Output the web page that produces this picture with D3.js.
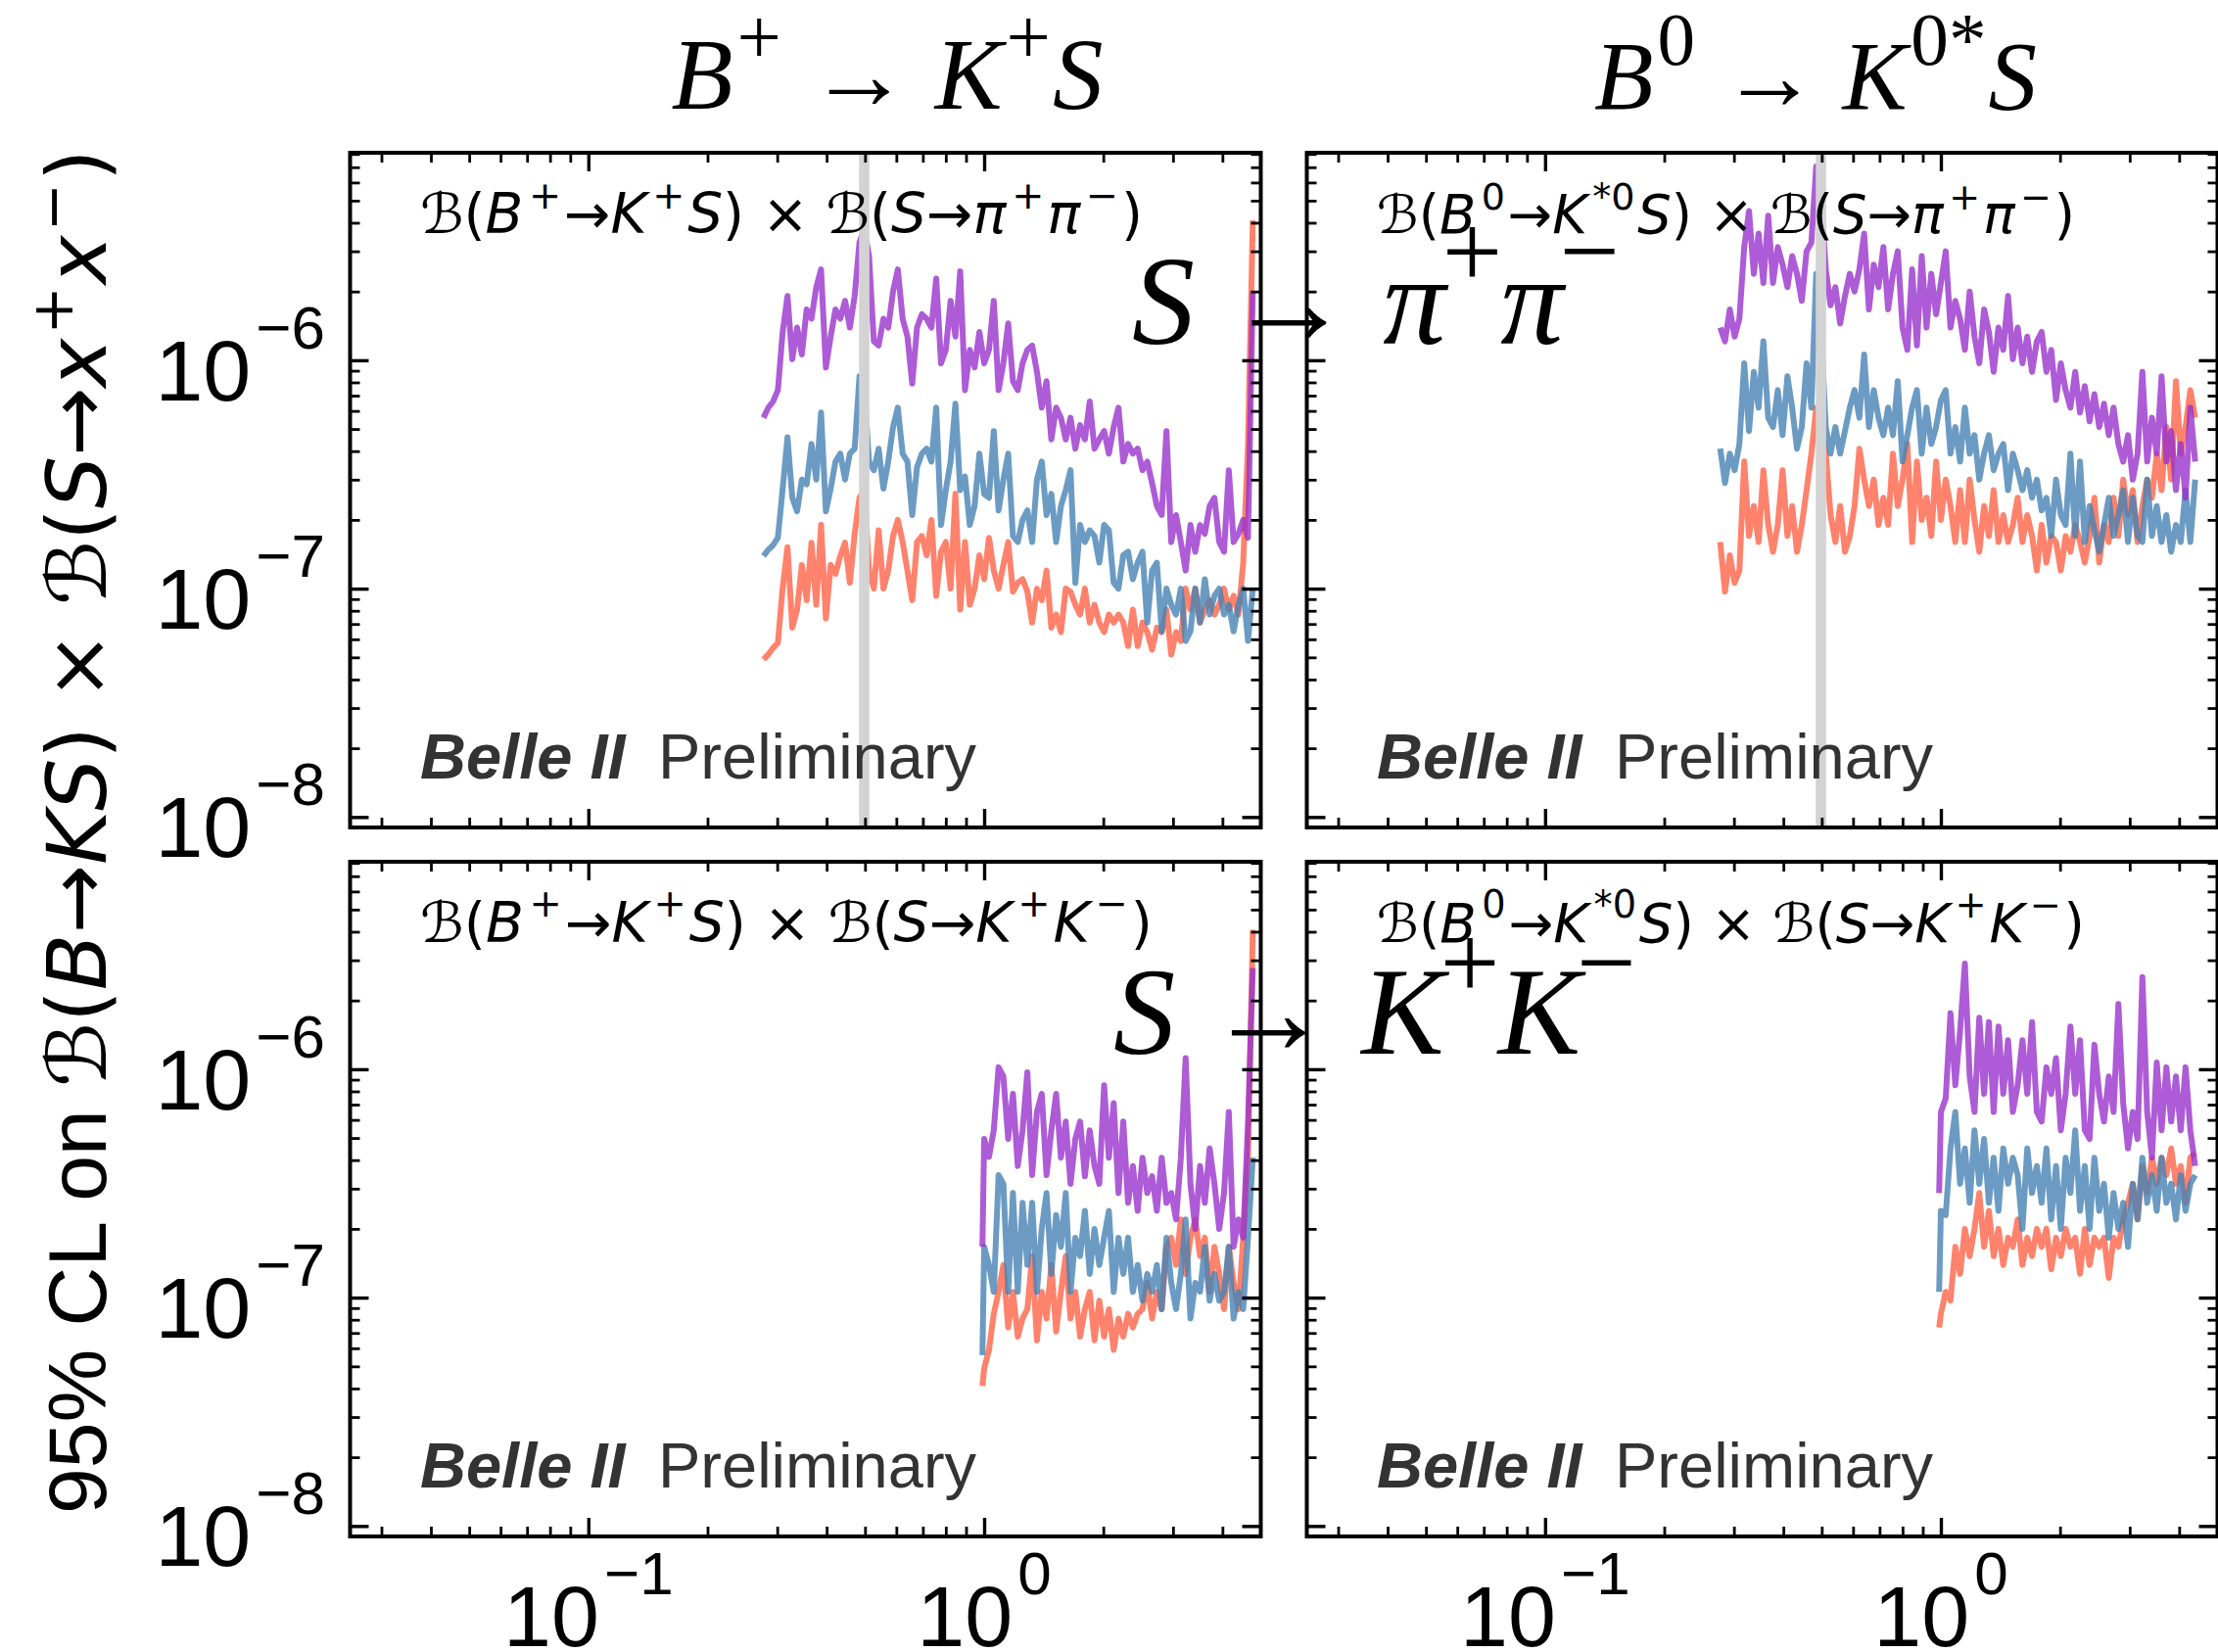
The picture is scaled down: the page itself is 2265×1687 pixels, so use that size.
<!DOCTYPE html>
<html>
<head>
<meta charset="utf-8">
<script src="https://cdn.jsdelivr.net/npm/d3@7"></script>
<style>
  html, body { margin: 0; padding: 0; background: #fff; }
  svg { display: block; }
</style>
</head>
<body>
<svg id="fig"></svg>
<script>
// ---------------------------------------------------------------
// 95% CL upper limits on B(B -> K S) x B(S -> x+ x-) versus m_S [GeV]
// Limits are stored in units of 1e-8.
// ---------------------------------------------------------------
const UNIT = 1e-8;

// mass scan points (GeV)
const massPiPi = [0.277,0.2848,0.2929,0.3012,0.3097,0.3185,0.3275,0.3368,0.3463,0.3561,
  0.3662,0.3766,0.3872,0.3982,0.4095,0.421,0.433,0.4452,0.4578,0.4708,
  0.4841,0.4978,0.5119,0.5264,0.5413,0.5566,0.5724,0.5886,0.6052,0.6224,
  0.64,0.6581,0.6767,0.6959,0.7156,0.7358,0.7567,0.7781,0.8001,0.8228,
  0.846,0.87,0.8946,0.9199,0.9459,0.9727,1.0002,1.0285,1.0576,1.0876,
  1.1183,1.15,1.1825,1.216,1.2504,1.2858,1.3222,1.3596,1.3981,1.4376,
  1.4783,1.5202,1.5632,1.6074,1.6529,1.6997,1.7478,1.7973,1.8481,1.9004,
  1.9542,2.0095,2.0664,2.1249,2.185,2.2468,2.3104,2.3758,2.443,2.5122,
  2.5833,2.6564,2.7316,2.8089,2.8884,2.9701,3.0542,3.1406,3.2295,3.3209,
  3.4149,3.5115,3.6109,3.7131,3.8182,3.9263,4.0374,4.1516,4.2691,4.39,
  4.5142,4.642,4.7733];
const massPiPiB0 = massPiPi.slice(0, 100);   // kinematic end for K*0 S
const massKK = [0.99,1.0002,1.0285,1.0576,1.0876,
  1.1183,1.15,1.1825,1.216,1.2504,1.2858,1.3222,1.3596,1.3981,1.4376,
  1.4783,1.5202,1.5632,1.6074,1.6529,1.6997,1.7478,1.7973,1.8481,1.9004,
  1.9542,2.0095,2.0664,2.1249,2.185,2.2468,2.3104,2.3758,2.443,2.5122,
  2.5833,2.6564,2.7316,2.8089,2.8884,2.9701,3.0542,3.1406,3.2295,3.3209,
  3.4149,3.5115,3.6109,3.7131,3.8182,3.9263,4.0374,4.1516,4.2691,4.39,
  4.5142,4.642,4.7733];
const massKKB0 = massKK.slice(0, 55);

// B+ -> K+ S, S -> pi+ pi-
const piPiBpShort = [4.9,5.15,5.5,5.8,10.1,15.2,6.75,8.1,12.7,8.9,
  15.9,8.5,19,7.4,12.7,11.6,13.9,15.9,10.6,17.4,
  25,27,12,10,18,10,12,17,20,16,
  12,8.9,16,17,14,20,9.3,14.5,16,10,
  26,8.1,16,8.5,10,14,11,16.7,12,10,
  12.7,16,9.7,10.6,11,9.7,7.1,10,8.9,12,
  6.75,7.7,6.45,10,9.7,8.5,7.7,10,7.1,8.5,
  7.1,6.45,7.7,7.1,7.7,7.1,5.6,8.1,5.6,7.1,
  6.45,5.4,6.75,6.45,8.1,5.15,6.45,5.9,10,8.1,
  10,7.1,8.1,8.9,7.7,8.5,10,8.1,9.3,7.7,
  13,43,410];
const piPiBpMid = [13.9,14.8,15.5,16.7,27.4,46,25,21.8,30,28.6,
  43,30,59,21.8,27.4,36,39,30,39,41,
  85,74,36,33,41,27.4,36,51,62,39,
  36,21,34,39,41,36,62,19,27,36,
  64.5,27,31,19,23,39,26,25,49,22,
  30,39,17,16,20,22,16,30,36,21,
  26,16,23,27,33,10.6,19,16,18,17,
  13,19,18,10.6,10,14,14.5,11,13,14.5,
  7.1,12,13,6.5,10,8.5,7.7,10,5.9,6.5,
  10,7.1,11,7.7,9.3,10,7.7,8.5,6.5,8.5,
  10,5.9,10];
const piPiBpLong = [56,62,66,74,133,191,101,139,106,167,
  152,209,250,93,127,167,152,182,139,191,
  328,375,286,121,116,152,139,200,250,152,
  127,79,139,159,152,139,228,97,111,182,
  127,245,74,111,93,133,97,111,182,74,
  97,145,81,74,97,111,116,89,62,81,
  45,62,56,45,56,41,52,45,66,41,
  45,49,39,51,62,36,43,39,41,33,
  36,29,23,21,49,16,21,16,12,19,
  14.5,19,17.4,23,25,16,14.5,33,16,17.4,
  20,16.7,200];

// B0 -> K*0 S, S -> pi+ pi-
const piPiB0Short = [16,9.7,14,10.6,12,36,17,23,16,33,
  19,14.5,19,33,17,23,14.5,19,27,39,
  62,51,39,21,16,23,14.5,17,23,41,
  30,23,30,19,25,19,39,23,30,43,
  16,36,20,25,17,36,20,30,23,16,
  27,16,30,20,14.5,23,17,27,16,21,
  16,19,25,16,21,17,12,19,13,17,
  16,12,17,14.5,19,16,13,17,25,13,
  19,16,25,17,30,21,27,16,23,30,
  25,39,27,51,30,81,39,51,74,56];
const piPiB0Mid = [41,29,39,33,43,97,49,89,62,121,
  56,51,74,47,85,62,41,51,97,62,
  239,139,51,39,51,39,49,62,74,56,
  106,51,74,56,47,62,47,81,36,47,
  62,74,39,62,43,51,67,74,39,51,
  36,62,39,47,30,39,47,33,39,43,
  27,39,33,27,33,25,30,22,25,17,
  30,21,19,39,17,36,16,23,18,14.5,
  19,25,17,21,27,16,25,17,16,30,
  17,23,16,21,14.5,19,16,27,16,30];
const piPiB0Long = [139,121,167,127,152,313,450,239,359,218,
  430,218,313,262,209,286,239,182,300,328,
  705,540,250,174,209,145,191,239,200,250,
  359,167,262,209,313,167,239,300,139,111,
  250,116,286,139,239,159,218,300,139,182,
  152,111,200,127,97,167,133,89,139,111,
  191,101,139,97,127,89,121,133,89,111,
  67,97,74,62,89,59,77,54,71,51,
  64.5,47,62,43,36,47,30,39,89,36,
  56,39,85,36,49,27,43,25,62,36];

// B+ -> K+ S, S -> K+ K-
const kkBpShort = [4.1,
  4.9,5.9,8.5,10.6,13.9,7.4,10.6,6.75,8.1,8.9,
  15.2,6.5,10.6,8.1,13.9,7.1,10.6,15.2,8.1,10.6,
  6.75,8.9,10.6,6.5,9.7,6.75,8.9,5.9,8.1,6.75,
  8.5,7.4,8.5,8.9,11.6,8.1,10.6,8.9,16.7,18.3,
  13.9,22,12.7,18.3,22,15.2,18.3,10.6,16.7,12.7,
  8.9,16.7,11.6,8.9,18.3,41,408];
const kkBpMid = [5.6,
  16.7,13.9,10.6,34.4,31.5,10.6,28.7,10.6,26,13.9,
  26,10.6,20,28.7,12.7,23,16.7,28.7,10.6,18.3,
  15.2,24,12.7,20,13.9,18.3,24,10.6,18.3,12.7,
  18.3,10.6,13.9,9.7,12.7,10.6,13.9,8.9,18.3,11.6,
  8.9,12.7,22,8.1,11.6,10.6,16.7,9.7,12.7,9.7,
  10.6,16.7,8.1,10.6,8.9,18.3,41];
const kkBpLong = [16.7,
  49.5,41.3,54,102,93,49.5,78,37.7,54,97,
  34.4,65,78,34.4,54,78,41,59,31.5,49.5,
  59,34,54,37.7,31.5,85,41,71,28.7,59,
  26,37.7,24,41,28.7,34,24,41,26,28.7,
  22,41,112,31.5,20,37.7,26,45,31.5,20,
  28.7,65,16.7,22,18.3,59,277];

// B0 -> K*0 S, S -> K+ K-
const kkB0Short = [7.4,
  8.5,10.6,9.7,16.7,12.7,20,15.2,20,28.7,16.7,
  24,15.2,20,13.9,18.3,16.7,22,13.9,18.3,15.2,
  20,16.7,20,13.3,18.3,15.2,20,16.7,18.3,12.7,
  20,13.9,18.3,16.7,18.3,12.2,18.3,16.7,22,26,
  31.5,22,37.7,28.7,41,31.5,41,34.4,45,31.5,
  37.7,26,41,43];
const kkB0Mid = [10.6,
  24,23,45,65,31.5,45,26,54,31.5,49.5,
  26,41,24,45,31.5,41,34.4,20,45,28.7,
  37.7,26,45,22,37.7,20,41,28.7,54,24,
  37.7,20,41,24,31.5,18.3,28.7,20,26,16.7,
  31.5,22,41,26,34.4,24,41,26,31.5,22,
  34.4,24,31.5,34.4];
const kkB0Long = [28.7,
  65,74.5,176,85,147,290,93,65,168,78,
  161,65,154,78,134,65,85,134,78,161,
  65,59,102,78,112,54,78,154,78,134,
  54,49.5,128,78,59,93,65,193,71,45,
  65,49.5,253,65,41,107,54,102,59,93,
  54,102,54,37.7];

// K_S^0 veto window in m(pi pi) (GeV)
const ksVeto = [0.483, 0.513];

// axis ticks
const xMajorTicks = [0.1, 1];
const xMinorTicks = [0.03,0.04,0.05,0.06,0.07,0.08,0.09,0.2,0.3,0.4,0.5,0.6,0.7,0.8,0.9,2,3,4];
const xTickExponents = ['\u22121', '0'];
const yMajorTicks = [1e-8, 1e-7, 1e-6];
const yMinorTicks = [9e-9,2e-8,3e-8,4e-8,5e-8,6e-8,7e-8,8e-8,9e-8,
  2e-7,3e-7,4e-7,5e-7,6e-7,7e-7,8e-7,9e-7,2e-6,3e-6,4e-6,5e-6,6e-6,7e-6,8e-6];
const yTickExponents = ['\u22128', '\u22127', '\u22126'];
const xDomain = [0.025, 5.0];
const yDomain = [9e-9, 8.1e-6];

// line colours: short / intermediate / long lifetime hypotheses
const seriesColors = ['tomato', 'steelblue', 'darkorchid'];

// text pieces: [string, kind] where kind i = italic, s = superscript
const notePiPiBp = [['\u212C'],['('],['B','i'],['+','s'],['\u2192'],['K','i'],['+','s'],['S','i'],[')'],[' \u00D7 '],
  ['\u212C'],['('],['S','i'],['\u2192'],['\u03C0','i'],['+','s'],['\u03C0','i'],['\u2212','s'],[')']];
const notePiPiB0 = [['\u212C'],['('],['B','i'],['0','s'],['\u2192'],['K','i'],['*0','s'],['S','i'],[')'],[' \u00D7 '],
  ['\u212C'],['('],['S','i'],['\u2192'],['\u03C0','i'],['+','s'],['\u03C0','i'],['\u2212','s'],[')']];
const noteKKBp = [['\u212C'],['('],['B','i'],['+','s'],['\u2192'],['K','i'],['+','s'],['S','i'],[')'],[' \u00D7 '],
  ['\u212C'],['('],['S','i'],['\u2192'],['K','i'],['+','s'],['K','i'],['\u2212','s'],[')']];
const noteKKB0 = [['\u212C'],['('],['B','i'],['0','s'],['\u2192'],['K','i'],['*0','s'],['S','i'],[')'],[' \u00D7 '],
  ['\u212C'],['('],['S','i'],['\u2192'],['K','i'],['+','s'],['K','i'],['\u2212','s'],[')']];
const titleBp = [['B','i'],['+','s'],[' \u2192 '],['K','i'],['+','s'],['S','i']];
const titleB0 = [['B','i'],['0','s'],[' \u2192 '],['K','i'],['0*','s'],['S','i']];
const rowPiPi = [['S','i'],[' \u2192 '],['\u03C0','i'],['+','s'],['\u03C0','i'],['\u2212','s']];
const rowKK = [['S','i'],[' \u2192 '],['K','i'],['+','s'],['K','i'],['\u2212','s']];
const yLabel = [['95% CL on ','sans'],['\u212C'],['('],['B','i'],['\u2192'],['KS','i'],[')'],[' \u00D7 '],
  ['\u212C'],['('],['S','i'],['\u2192'],['x','i'],['+','s'],['x','i'],['\u2212','s'],[')']];

// ---------------------------------------------------------------
const W = 2265, H = 1687;
const PW = 930, PH = 689;
const colX = [357.5, 1334.5];
const rowY = [156, 880];
const SANS = 'Liberation Sans, Arial, Helvetica, sans-serif';
const MATH = 'DejaVu Sans, sans-serif';
const SERIF = 'Liberation Serif, Times New Roman, serif';

const svg = d3.select('#fig').attr('width', W).attr('height', H);
svg.append('rect').attr('width', W).attr('height', H).attr('fill', '#fff');
const defs = svg.append('defs');

function mathText(parent, parts, size, o) {
  const t = parent.append('text')
    .attr('x', o.x || 0).attr('y', o.y || 0)
    .attr('font-family', o.family).attr('font-size', size)
    .attr('text-anchor', o.anchor || 'start')
    .attr('fill', o.fill || '#000')
    .style('white-space', 'pre');
  const rise = size * (o.rise || 0.42), sc = o.supScale || 0.7, gap = size * (o.supGap || 0);
  let up = false;
  parts.forEach(([s, k]) => {
    const ts = t.append('tspan').text(s);
    if (k === 's') {
      ts.attr('font-size', size * sc);
      if (!up) { ts.attr('dy', -rise).attr('dx', gap); up = true; }
    } else {
      if (up) { ts.attr('dy', rise).attr('dx', gap * 0.5); up = false; }
      if (k === 'i') ts.attr('font-style', 'italic');
      if (k === 'sans') ts.attr('font-family', SANS);
    }
  });
  return t;
}
function fitText(parent, parts, width, o) {
  const probe = mathText(parent, parts, 100, o);
  const w = probe.node().getBBox().width;
  probe.remove();
  return mathText(parent, parts, 100 * width / w, o);
}
function powerLabel(parent, x, y, exp, anchor) {
  const t = parent.append('text').attr('x', x).attr('y', y)
    .attr('text-anchor', anchor).attr('font-family', SANS).attr('font-size', 88);
  t.append('tspan').text('10');
  t.append('tspan').attr('dx', 5).attr('dy', -53).attr('font-size', 62).text(exp);
}

const panels = [
  { col: 0, row: 0, mass: massPiPi,   lims: [piPiBpShort, piPiBpMid, piPiBpLong], note: notePiPiBp, noteW: 738, veto: true },
  { col: 1, row: 0, mass: massPiPiB0, lims: [piPiB0Short, piPiB0Mid, piPiB0Long], note: notePiPiB0, noteW: 713, veto: true },
  { col: 0, row: 1, mass: massKK,     lims: [kkBpShort, kkBpMid, kkBpLong],       note: noteKKBp,   noteW: 748, veto: false },
  { col: 1, row: 1, mass: massKKB0,   lims: [kkB0Short, kkB0Mid, kkB0Long],       note: noteKKB0,   noteW: 723, veto: false }
];

panels.forEach((p, i) => {
  const x0 = colX[p.col], y0 = rowY[p.row];
  const x = d3.scaleLog().domain(xDomain).range([x0, x0 + PW]);
  const y = d3.scaleLog().domain(yDomain).range([y0 + PH, y0]);
  const g = svg.append('g');

  defs.append('clipPath').attr('id', 'clip' + i)
    .append('rect').attr('x', x0).attr('y', y0).attr('width', PW).attr('height', PH);
  const plot = g.append('g').attr('clip-path', `url(#clip${i})`);

  const line = d3.line()
    .x((d, j) => x(p.mass[j]))
    .y(d => y(d * UNIT));
  p.lims.forEach((vals, s) => {
    plot.append('path').datum(vals)
      .attr('d', line)
      .attr('fill', 'none')
      .attr('stroke', seriesColors[s])
      .attr('stroke-opacity', 0.8)
      .attr('stroke-width', 6)
      .attr('stroke-linejoin', 'round');
  });

  if (p.veto) {
    plot.append('rect')
      .attr('x', x(ksVeto[0])).attr('width', x(ksVeto[1]) - x(ksVeto[0]))
      .attr('y', y0).attr('height', PH)
      .attr('fill', '#d3d3d3');
  }

  // inward ticks on all four sides
  const tickSets = [
    [d3.axisBottom(x), `translate(0,${y0 + PH})`, xMajorTicks, xMinorTicks],
    [d3.axisTop(x), `translate(0,${y0})`, xMajorTicks, xMinorTicks],
    [d3.axisLeft(y), `translate(${x0},0)`, yMajorTicks, yMinorTicks],
    [d3.axisRight(y), `translate(${x0 + PW},0)`, yMajorTicks, yMinorTicks]
  ];
  tickSets.forEach(([ax, tr, major, minor]) => {
    [[major, 19, 3.4], [minor, 10, 2.8]].forEach(([vals, len, w]) => {
      const a = g.append('g').attr('transform', tr)
        .call(ax.tickValues(vals).tickSize(-len).tickFormat(''));
      a.select('.domain').remove();
      a.selectAll('line').attr('stroke', '#000').attr('stroke-width', w);
    });
  });

  g.append('rect').attr('x', x0).attr('y', y0).attr('width', PW).attr('height', PH)
    .attr('fill', 'none').attr('stroke', '#000').attr('stroke-width', 4);

  // in-panel annotations
  fitText(g, p.note, p.noteW, { x: x0 + 71.5, y: y0 + 82, family: MATH, rise: 0.45, supGap: 0.1 });
  g.append('text').attr('x', x0 + 71.5).attr('y', y0 + 639)
    .attr('font-family', SANS).attr('font-size', 65).attr('font-weight', 'bold')
    .attr('font-style', 'italic').attr('fill', '#333').text('Belle II');
  g.append('text').attr('x', x0 + 314.5).attr('y', y0 + 639)
    .attr('font-family', SANS).attr('font-size', 65).attr('fill', '#333').text('Preliminary');

  if (p.col === 0) {
    yMajorTicks.forEach((v, k) => powerLabel(g, 332, y(v) + 41, yTickExponents[k], 'end'));
  }
  if (p.row === 1) {
    xMajorTicks.forEach((v, k) => powerLabel(g, x(v), 1681, xTickExponents[k], 'middle'));
  }
});

// y-axis title
const yl = svg.append('g').attr('transform', 'translate(108,849) rotate(-90)');
fitText(yl, yLabel, 1394, { anchor: 'middle', family: MATH, rise: 0.4, supGap: 0.05 });

// column titles
fitText(svg, titleBp, 441, { x: 906, y: 111, anchor: 'middle', family: SERIF, rise: 0.45, supScale: 0.78, supGap: 0.04 });
fitText(svg, titleB0, 452, { x: 1854, y: 111, anchor: 'middle', family: SERIF, rise: 0.45, supScale: 0.78, supGap: 0.04 });

// row titles
fitText(svg, rowPiPi, 498, { x: 1405, y: 351, anchor: 'middle', family: SERIF, rise: 0.45, supScale: 0.85, supGap: -0.03 });
fitText(svg, rowKK, 534, { x: 1404, y: 1076, anchor: 'middle', family: SERIF, rise: 0.45, supScale: 0.85, supGap: -0.03 });
</script>
</body>
</html>
